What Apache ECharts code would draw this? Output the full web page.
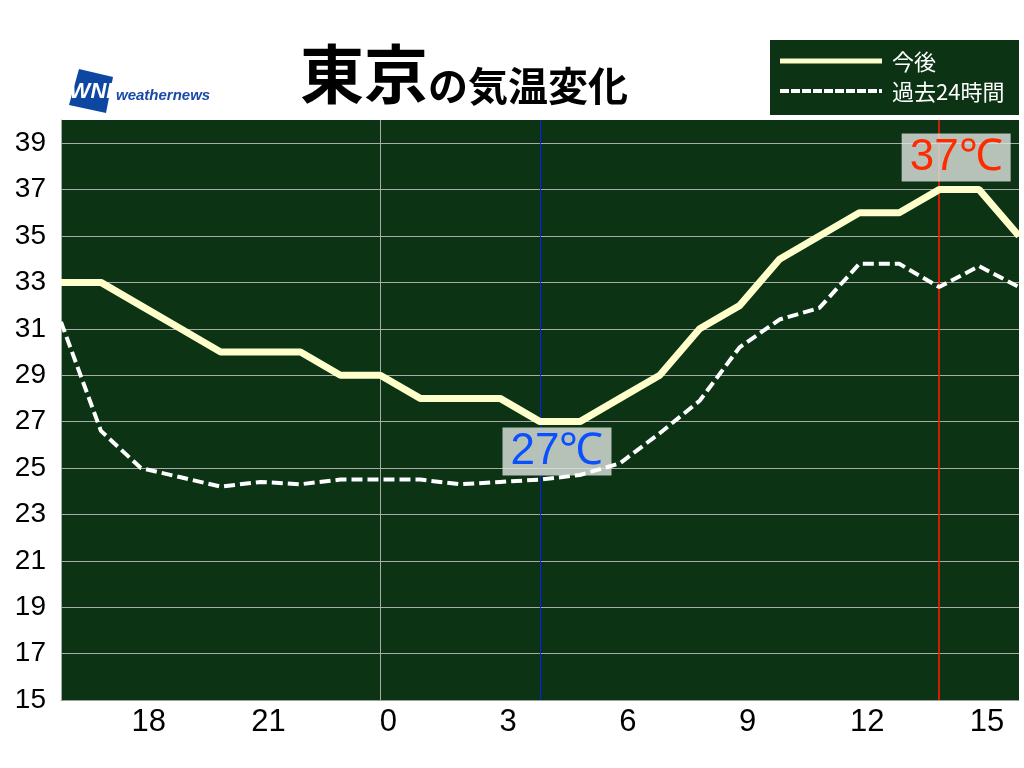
<!DOCTYPE html>
<html><head><meta charset="utf-8">
<script src="https://cdn.jsdelivr.net/npm/echarts@6/dist/echarts.min.js"></script>
<style>html,body{margin:0;padding:0;background:#fff}#c{width:1024px;height:768px}</style>
</head><body><div id="c"></div>
<script>
const hours = [16,17,18,19,20,21,22,23,24,25,26,27,28,29,30,31,32,33,34,35,36,37,38,39,40];
const forecast = [33,33,32,31,30,30,30,29,29,28,28,28,27,27,28,29,31,32,34,35,36,36,37,37,35];
const past24 = [31.3,26.6,25.0,24.6,24.2,24.4,24.3,24.5,24.5,24.5,24.3,24.4,24.5,24.7,25.2,26.5,27.9,30.2,31.4,31.9,33.8,33.8,32.8,33.7,32.8];
const xTickHours = [18,21,24,27,30,33,36,39];
const yTicks = [15,17,19,21,23,25,27,29,31,33,35,37,39];
const minMark = {hour: 28, value: 27, label: '27℃'};
const maxMark = {hour: 38, value: 37, label: '37℃'};
const legendNames = ['今後', '過去24時間'];

const chart = echarts.init(document.getElementById('c'));
const pair = (arr) => hours.map((h, i) => [h, arr[i]]);
const gridColors = yTicks.map(() => '#a9aca9').concat(['rgba(0,0,0,0)']);

chart.setOption({
  animation: false,
  backgroundColor: '#fff',
  grid: {left: 61, right: 5, top: 120, bottom: 68, show: true, backgroundColor: '#0b3314', borderWidth: 0},
  xAxis: {
    type: 'value', min: 16, max: 40,
    axisLine: {show: true, lineStyle: {color: '#9aa59a', width: 1}},
    axisTick: {show: false},
    splitLine: {show: false},
    axisLabel: {
      customValues: xTickHours,
      formatter: v => String(v % 24),
      color: '#000', fontSize: 31, fontFamily: 'Liberation Sans, Arial, sans-serif',
      margin: 7, padding: [0, 0, 0, 16]
    }
  },
  yAxis: {
    type: 'value', min: 15, max: 40, interval: 2,
    axisLine: {show: true, lineStyle: {color: '#a9aca9', width: 1}},
    axisTick: {show: false},
    splitLine: {show: true, lineStyle: {color: gridColors, width: 1}},
    axisLabel: {
      showMaxLabel: false,
      color: '#000', fontSize: 28, fontFamily: 'Liberation Sans, Arial, sans-serif', margin: 15
    }
  },
  series: [
    {
      name: legendNames[0], type: 'line', data: pair(forecast), z: 4,
      symbol: 'none', lineStyle: {color: '#ffffcc', width: 7},
      markLine: {
        silent: true, symbol: 'none', z: 1, label: {show: false},
        data: [
          {xAxis: 24, lineStyle: {color: '#a9aca9', width: 1, type: 'solid'}},
          {xAxis: minMark.hour, lineStyle: {color: '#0022ff', width: 1, type: 'solid'}},
          {xAxis: maxMark.hour, lineStyle: {color: '#ff1a00', width: 1.6, type: 'solid'}}
        ]
      },
      markPoint: {
        z: 2,
        data: [
          {coord: [minMark.hour, minMark.value], symbol: 'rect', symbolSize: [109, 48], symbolOffset: [17, 30],
           itemStyle: {color: 'rgba(225,230,225,0.8)'},
           label: {show: true, position: 'inside', formatter: minMark.label, color: '#0a50ff', fontSize: 44, fontFamily: 'Liberation Sans, Arial, sans-serif'}},
          {coord: [maxMark.hour, maxMark.value], symbol: 'rect', symbolSize: [109, 48], symbolOffset: [17, -32],
           itemStyle: {color: 'rgba(225,230,225,0.8)'},
           label: {show: true, position: 'inside', formatter: maxMark.label, color: '#ff2a00', fontSize: 44, fontFamily: 'Liberation Sans, Arial, sans-serif'}}
        ]
      }
    },
    {
      name: legendNames[1], type: 'line', data: pair(past24), z: 5,
      symbol: 'none', lineStyle: {color: '#ffffff', width: 4, type: [11, 5]}
    }
  ],
  graphic: [
    {type: 'polygon', shape: {points: [[79,69],[113,77],[106,113],[69,105]]}, style: {fill: '#0d47a1'}},
    {type: 'text', x: 91, y: 92, style: {text: 'WNI', fill: '#fff', font: 'italic bold 22px Liberation Sans, Arial', align: 'center', verticalAlign: 'middle'}},
    {type: 'text', x: 116, y: 96, style: {text: 'weathernews', fill: '#1a4aa8', font: 'italic bold 15px Liberation Sans, Arial', verticalAlign: 'middle'}},
    {type: 'text', x: 300, y: 106, style: {
      text: '{a|東京}{b|の気温変化}', verticalAlign: 'bottom',
      rich: {
        a: {fontSize: 64, fontWeight: 'bold', fill: '#000', fontFamily: 'Noto Sans CJK JP', verticalAlign: 'bottom'},
        b: {fontSize: 40, fontWeight: 'bold', fill: '#000', fontFamily: 'Noto Sans CJK JP', verticalAlign: 'bottom'}
      }}},
    {type: 'rect', shape: {x: 770, y: 40, width: 249, height: 75}, style: {fill: '#0b3314'}},
    {type: 'line', shape: {x1: 780, y1: 61, x2: 882, y2: 61}, style: {stroke: '#ffffcc', lineWidth: 5}},
    {type: 'line', shape: {x1: 780, y1: 91, x2: 882, y2: 91}, style: {stroke: '#ffffff', lineWidth: 4, lineDash: [9, 2]}},
    {type: 'text', x: 892, y: 62, style: {text: legendNames[0], fill: '#fff', font: '22px Noto Sans CJK JP', verticalAlign: 'middle'}},
    {type: 'text', x: 892, y: 92, style: {text: legendNames[1], fill: '#fff', font: '22px Noto Sans CJK JP', verticalAlign: 'middle'}}
  ]
});
</script></body></html>
